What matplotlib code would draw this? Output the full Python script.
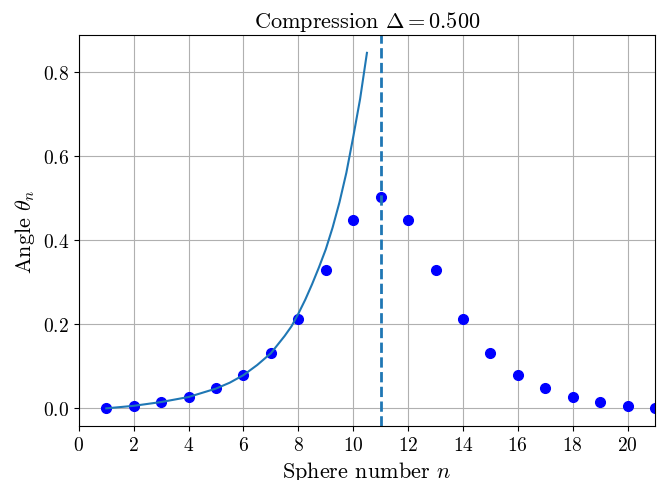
import matplotlib
matplotlib.use("Agg")
import matplotlib.pyplot as plt

plt.rcParams['font.family'] = 'serif'
plt.rcParams['font.serif'] = ['cmr10']
plt.rcParams['mathtext.fontset'] = 'cm'
plt.rcParams['axes.formatter.use_mathtext'] = True
plt.rcParams['font.size'] = 14

# sphere angles
n = [1, 2, 3, 4, 5, 6, 7, 8, 9, 10, 11, 12, 13, 14, 15, 16, 17, 18, 19, 20, 21]
theta = [0.0, 0.0055, 0.016, 0.027, 0.0475, 0.079, 0.131, 0.213, 0.328, 0.447, 0.5025,
         0.447, 0.328, 0.213, 0.131, 0.079, 0.0475, 0.027, 0.016, 0.0055, 0.0]

# approximation curve
n_fit = [1, 2, 3, 4, 5, 5.5, 6, 6.5, 7, 7.5, 7.75, 8, 8.25, 8.5, 8.75, 9, 9.25, 9.5,
         9.75, 10, 10.25, 10.5]
theta_fit = [0.0, 0.006, 0.015, 0.027, 0.047, 0.061, 0.079, 0.103, 0.131, 0.172, 0.195,
             0.225, 0.258, 0.295, 0.335, 0.378, 0.43, 0.49, 0.56, 0.645, 0.735, 0.845]

n_mid = 11
delta = 0.500

fig, ax = plt.subplots(figsize=(6.57, 4.81), dpi=100)
fig.subplots_adjust(left=0.120, right=0.997, top=0.925, bottom=0.112)

ax.plot(n, theta, 'bo', markersize=7)
ax.plot(n_fit, theta_fit, color='C0', linewidth=1.5)
ax.axvline(n_mid, color='C0', linestyle='--', linewidth=2)

ax.set_xlim(0, 21)
ax.set_xticks(range(0, 21, 2))
ax.grid(True)
ax.set_xlabel(r'Sphere number $n$', fontsize=16)
ax.set_ylabel(r'Angle $\theta_n$', fontsize=16)
ax.set_title(r'Compression $\Delta = %.3f$' % delta, fontsize=16)

plt.savefig('out.png')
